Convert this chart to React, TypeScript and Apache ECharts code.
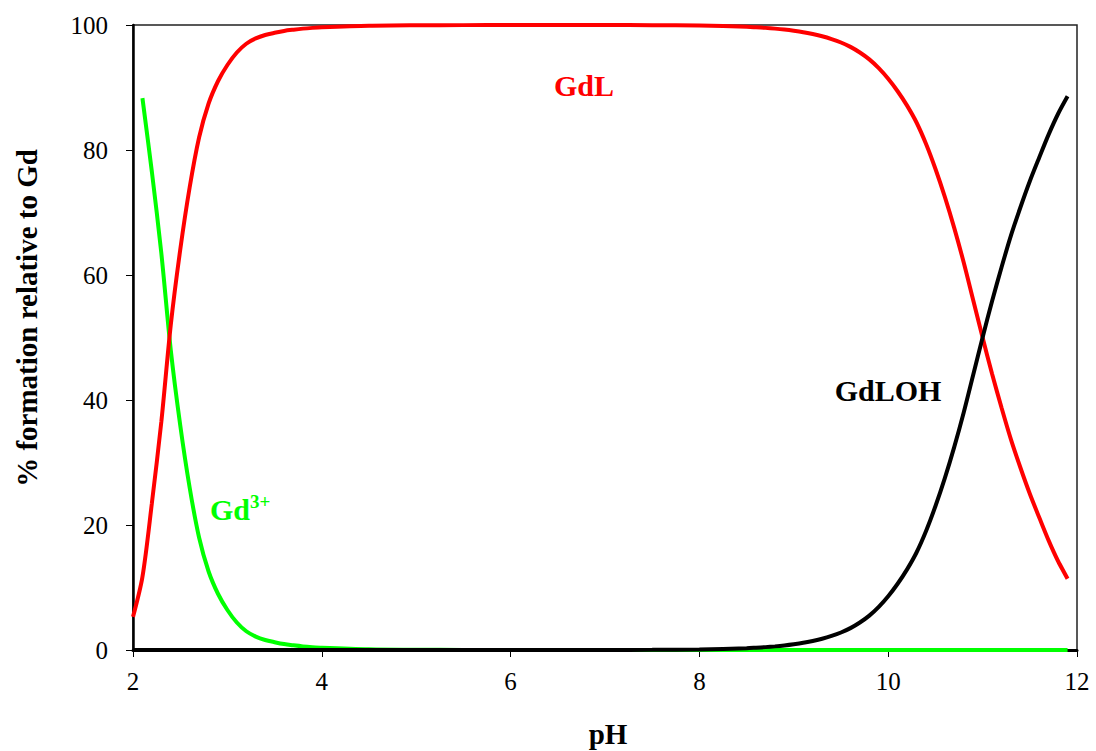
import React, { useEffect, useRef } from "react";
import * as echarts from "echarts";

// pH grid shared by all species
const pH = [
  2.0, 2.1, 2.2, 2.3, 2.4, 2.5, 2.6, 2.7, 2.8, 2.9, 3.0, 3.1, 3.2, 3.3, 3.4, 3.5, 3.6, 3.7, 3.8,
  3.9, 4.0,
  4.5, 5.0, 5.5, 6.0, 6.5, 7.0, 7.5, 8.0,
  8.5, 8.6, 8.7, 8.8, 8.9, 9.0, 9.1, 9.2, 9.3, 9.4, 9.5, 9.6, 9.7, 9.8, 9.9, 10.0, 10.1, 10.2,
  10.3, 10.4, 10.5, 10.6, 10.7, 10.8, 10.9, 11.0, 11.1, 11.2, 11.3, 11.4, 11.5, 11.6, 11.7, 11.8,
  11.9,
];

// % of total Gd present as each species
const gdFree: (number | null)[] = [
  null, 88.3, 76.5, 63.5, 48, 36, 26, 18, 12.6, 9.0, 6.4, 4.4, 3.0, 2.15, 1.6, 1.25, 0.95, 0.75,
  0.58, 0.46, 0.37,
  0.13, 0.05, 0.02, 0.01, 0, 0, 0, 0,
  0, 0, 0, 0, 0, 0, 0, 0, 0, 0, 0, 0, 0, 0, 0, 0, 0, 0, 0, 0, 0, 0, 0, 0, 0, 0, 0, 0, 0, 0, 0, 0,
  0, 0, 0,
];
const gdL = [
  5.3, 11.7, 23.5, 36.5, 52, 64, 74, 82, 87.4, 91, 93.6, 95.6, 97.0, 97.85, 98.4, 98.75, 99.05,
  99.25, 99.42, 99.54, 99.63,
  99.87, 99.95, 99.98, 99.99, 99.99, 99.99, 99.97, 99.91,
  99.71, 99.63, 99.54, 99.42, 99.27, 99.08, 98.85, 98.55, 98.2, 97.75, 97.2, 96.5, 95.6, 94.5,
  93.1, 91.4, 89.4, 87.1, 84.4, 81.0, 77.0, 72.5, 67.5, 62.0, 56.0, 50.0, 44.2, 38.8, 33.7, 29.2,
  25.0, 21.2, 17.5, 14.2, 11.4,
];
const gdLOH = [
  0, 0, 0, 0, 0, 0, 0, 0, 0, 0, 0, 0, 0, 0, 0, 0, 0, 0, 0, 0, 0,
  0, 0, 0, 0, 0, 0.01, 0.03, 0.09,
  0.29, 0.37, 0.46, 0.58, 0.73, 0.92, 1.15, 1.45, 1.8, 2.25, 2.8, 3.5, 4.4, 5.5, 6.9, 8.6, 10.6,
  12.9, 15.6, 19.0, 23.0, 27.5, 32.5, 38.0, 44.0, 50.0, 55.8, 61.2, 66.3, 70.8, 75.0, 78.8, 82.5,
  85.8, 88.6,
];

const xTicks = { min: 2, max: 12, step: 2 };
const yTicks = { min: 0, max: 100, step: 20 };

const toPairs = (vals: (number | null)[]) =>
  pH.map((x, i) => [x, vals[i]]).filter((p) => p[1] !== null);

const SERIF = "'Liberation Serif', 'Times New Roman', serif";

export default function App() {
  const ref = useRef<HTMLDivElement>(null);

  useEffect(() => {
    if (!ref.current) return;
    const chart = echarts.init(ref.current, undefined, { renderer: "svg" });

    const lineSeries = (name: string, vals: (number | null)[], color: string, z: number) => ({
      name,
      type: "line",
      data: toPairs(vals),
      smooth: 0.3,
      showSymbol: false,
      symbol: "none",
      z,
      lineStyle: { color, width: 4 },
    });

    const boldLabel = (
      text: string,
      x: number,
      y: number,
      fill: string,
      fontSize = 30,
      rotation = 0
    ) => ({
      type: "text",
      x,
      y,
      rotation,
      style: {
        text,
        fontFamily: SERIF,
        fontSize,
        fontWeight: "bold",
        fill,
        align: "center",
        verticalAlign: "middle",
      },
    });

    chart.setOption({
      animation: false,
      backgroundColor: "#ffffff",
      grid: {
        left: 133,
        right: 19,
        top: 25,
        bottom: 101,
        outerBoundsMode: "none",
        show: true,
        borderColor: "#222",
        borderWidth: 1.5,
        backgroundColor: "transparent",
      },
      xAxis: {
        type: "value",
        min: xTicks.min,
        max: xTicks.max,
        interval: xTicks.step,
        axisLine: { show: true, onZero: false, lineStyle: { color: "#000", width: 3 } },
        axisTick: { show: true, inside: false, length: 7, lineStyle: { color: "#000", width: 1 } },
        axisLabel: { color: "#000", fontFamily: SERIF, fontSize: 25, margin: 19 },
        splitLine: { show: false },
      },
      yAxis: {
        type: "value",
        min: yTicks.min,
        max: yTicks.max,
        interval: yTicks.step,
        axisLine: { show: true, onZero: false, lineStyle: { color: "#000", width: 2.5 } },
        axisTick: { show: true, inside: false, length: 7, lineStyle: { color: "#000", width: 1 } },
        axisLabel: { color: "#000", fontFamily: SERIF, fontSize: 25, margin: 25 },
        splitLine: { show: false },
      },
      graphic: [
        boldLabel("% formation relative to Gd", 27, 318, "#000000", 29, Math.PI / 2),
        boldLabel("pH", 608, 734, "#000000", 29),
        boldLabel("GdL", 584, 85, "#ff0000"),
        boldLabel("GdLOH", 888, 390, "#000000"),
        {
          type: "text",
          x: 210,
          y: 508,
          style: {
            text: "{a|Gd}{b|3+}",
            fill: "#00ff00",
            align: "left",
            verticalAlign: "middle",
            rich: {
              a: {
                fontFamily: SERIF,
                fontSize: 30,
                fontWeight: "bold",
                fill: "#00ff00",
                lineHeight: 32,
                verticalAlign: "bottom",
              },
              b: {
                fontFamily: SERIF,
                fontSize: 19,
                fontWeight: "bold",
                fill: "#00ff00",
                lineHeight: 32,
                verticalAlign: "top",
              },
            },
          },
        },
      ],
      series: [
        lineSeries("Gd3+", gdFree, "#00ff00", 2),
        lineSeries("GdL", gdL, "#ff0000", 3),
        lineSeries("GdLOH", gdLOH, "#000000", 4),
      ],
    });

    return () => chart.dispose();
  }, []);

  return (
    <div
      ref={ref}
      style={{ position: "fixed", left: 0, top: 0, width: 1096, height: 751 }}
    />
  );
}
